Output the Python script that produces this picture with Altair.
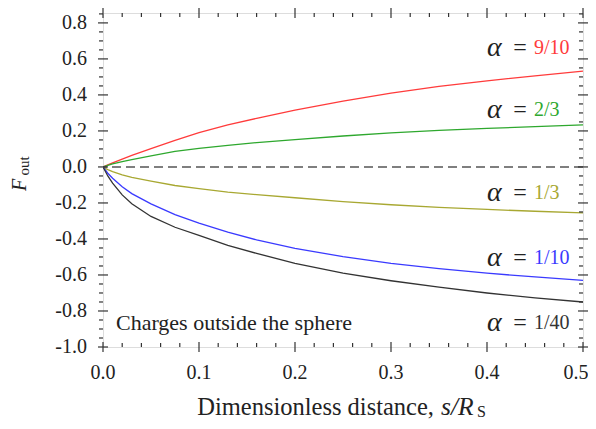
import altair as alt
import pandas as pd

# ---- data ----
s_vals = [0, 0.005, 0.01, 0.02, 0.03, 0.05, 0.075, 0.1, 0.13, 0.16, 0.2, 0.25, 0.3, 0.35, 0.4, 0.45, 0.5]
f_9_10 = [0, 0.012, 0.023, 0.044, 0.064, 0.102, 0.148, 0.19, 0.234, 0.27, 0.315, 0.365, 0.41, 0.447, 0.478, 0.506, 0.532]
f_2_3 = [0, 0.009, 0.017, 0.03, 0.041, 0.062, 0.086, 0.103, 0.12, 0.135, 0.152, 0.172, 0.189, 0.203, 0.214, 0.224, 0.234]
f_1_3 = [0, -0.015, -0.026, -0.044, -0.058, -0.079, -0.103, -0.12, -0.14, -0.154, -0.171, -0.193, -0.21, -0.224, -0.236, -0.246, -0.255]
f_1_10 = [0, -0.035, -0.063, -0.11, -0.148, -0.205, -0.265, -0.312, -0.362, -0.405, -0.452, -0.498, -0.535, -0.565, -0.59, -0.611, -0.63]
f_1_40 = [0, -0.05, -0.09, -0.155, -0.204, -0.275, -0.335, -0.38, -0.435, -0.48, -0.535, -0.59, -0.632, -0.668, -0.7, -0.727, -0.75]

alphas = ["9/10", "2/3", "1/3", "1/10", "1/40"]
colors = ["#ff3b3b", "#2ea82e", "#a8a832", "#3a3aff", "#333333"]
label_y = [0.662, 0.318, -0.147, -0.507, -0.866]

x_major = [0.0, 0.1, 0.2, 0.3, 0.4, 0.5]
x_minor = [round(i * 0.02, 2) for i in range(26) if i % 5 != 0]
y_major = [-1.0, -0.8, -0.6, -0.4, -0.2, 0.0, 0.2, 0.4, 0.6, 0.8]
y_minor = [round(-1.0 + i * 0.05, 2) for i in range(38) if i % 4 != 0]

W, H = 480, 334
FONT = "Liberation Serif"
AX = "#333333"
TXT = "#222222"

rows = []
for a, ys in zip(alphas, [f_9_10, f_2_3, f_1_3, f_1_10, f_1_40]):
    for s, f in zip(s_vals, ys):
        rows.append({"s": s, "F": f, "alpha": a})
df = pd.DataFrame(rows)

xs = alt.Scale(domain=[0, 0.5], nice=False, zero=False)
ys_ = alt.Scale(domain=[-1.0, 0.855], nice=False, zero=False)
cs = alt.Scale(domain=alphas, range=colors)


def X(field):
    return alt.X(field, scale=xs, axis=None)


def Y(field):
    return alt.Y(field, scale=ys_, axis=None)


lines = alt.Chart(df).mark_line(strokeWidth=1.3, clip=True).encode(
    x=X("s:Q"), y=Y("F:Q"),
    color=alt.Color("alpha:N", scale=cs, legend=None),
    order=alt.Order("s:Q"),
)

zero = alt.Chart(pd.DataFrame({"y": [0.0]})).mark_rule(color="#555555", strokeDash=[9, 5], strokeWidth=1.4).encode(
    y=Y("y:Q")
)


def yticks(vals, x1, x2):
    return alt.Chart(pd.DataFrame({"v": vals})).mark_rule(color=AX, strokeWidth=1.2).encode(
        y=Y("v:Q"), x=alt.value(x1), x2=alt.value(x2))


def xticks(vals, y1, y2):
    return alt.Chart(pd.DataFrame({"v": vals})).mark_rule(color=AX, strokeWidth=1.2).encode(
        x=X("v:Q"), y=alt.value(y1), y2=alt.value(y2))


ticks = [
    yticks(y_major, -5, 5), yticks(y_minor, -4, 0),
    yticks(y_major, W - 5, W + 5), yticks(y_minor, W - 4, W),
    xticks(x_major, H - 5, H + 5), xticks(x_minor, H - 4, H),
    xticks(x_major, -5, 5), xticks(x_minor, 0, 4),
]

# tick labels (hyphen minus, one decimal)
ylab_df = pd.DataFrame({"v": y_major, "t": [f"{v:.1f}" for v in y_major]})
ylabels = alt.Chart(ylab_df).mark_text(font=FONT, fontSize=20, align="right", baseline="middle", color=TXT).encode(
    y=Y("v:Q"), x=alt.value(-16), text="t:N")
xlab_df = pd.DataFrame({"v": x_major, "t": [f"{v:.1f}" for v in x_major]})
xlabels = alt.Chart(xlab_df[:-1]).mark_text(font=FONT, fontSize=20, align="center", baseline="middle",
                                            color=TXT).encode(x=X("v:Q"), y=alt.value(H + 26), text="t:N")
xlabel_last = alt.Chart(xlab_df[-1:]).mark_text(font=FONT, fontSize=20, align="center", baseline="middle",
                                                color=TXT, dx=-7).encode(x=X("v:Q"), y=alt.value(H + 26), text="t:N")

lab = pd.DataFrame({"alpha": alphas, "y": label_y, "xa": [0.400] * 5, "xe": [0.4345] * 5, "xf": [0.449] * 5,
                    "a": ["α"] * 5, "e": ["="] * 5})

alpha_txt = alt.Chart(lab).mark_text(font=FONT, fontSize=28, fontStyle="italic", align="left",
                                     baseline="middle", color=TXT).encode(x=X("xa:Q"), y=Y("y:Q"), text="a:N")
eq_txt = alt.Chart(lab).mark_text(font=FONT, fontSize=24, align="center", baseline="middle", color=TXT).encode(
    x=X("xe:Q"), y=Y("y:Q"), text="e:N")
frac_txt = alt.Chart(lab).mark_text(font=FONT, fontSize=20, align="left", baseline="middle").encode(
    x=X("xf:Q"), y=Y("y:Q"), text="alpha:N",
    color=alt.Color("alpha:N", scale=cs, legend=None))

charges = alt.Chart(pd.DataFrame({"t": ["Charges outside the sphere"], "x": [0.0135], "y": [-0.866]})).mark_text(
    font=FONT, fontSize=22, align="left", baseline="middle", color=TXT).encode(
    x=X("x:Q"), y=Y("y:Q"), text="t:N")


def free_text(t, x, y, size, style="normal", angle=0, align="center", baseline="middle"):
    return alt.Chart(pd.DataFrame({"t": [t]})).mark_text(
        font=FONT, fontSize=size, fontStyle=style, angle=angle, align=align, baseline=baseline, color=TXT
    ).encode(x=alt.value(x), y=alt.value(y), text="t:N")


titles = [
    free_text("Dimensionless distance,", 331, 402, 24.5, align="right", baseline="alphabetic"),
    free_text("s/R", 338, 402, 25.5, style="italic", align="left", baseline="alphabetic"),
    free_text("S", 374, 404, 16, align="left", baseline="alphabetic"),
    free_text("F", -77, 172, 20, style="italic", angle=270, baseline="alphabetic"),
    free_text("out", -74, 153, 15, angle=270, baseline="alphabetic"),
]

chart = alt.layer(lines, zero, *ticks, ylabels, xlabels, xlabel_last, alpha_txt, eq_txt, frac_txt, charges,
                  *titles).properties(
    width=W, height=H,
    autosize=alt.AutoSizeParams(type="none"),
    padding={"left": 95, "top": 5, "right": 5, "bottom": 74},
).configure_view(stroke=AX, strokeWidth=1.5).configure(background="white")

chart.save("out.html", embed_options={"renderer": "svg", "actions": False})
